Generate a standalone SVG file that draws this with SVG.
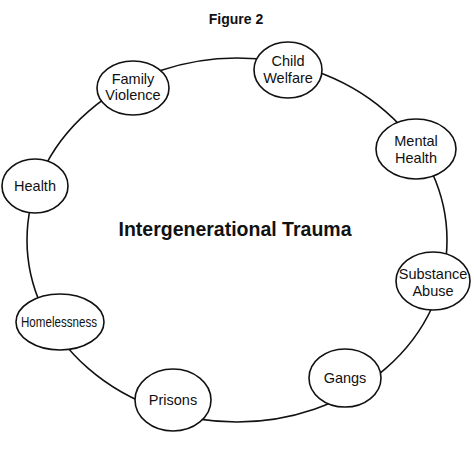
<svg xmlns="http://www.w3.org/2000/svg" width="474" height="450" viewBox="0 0 474 450">
<style>
.n{fill:#fff;stroke:#111;stroke-width:1.6}
.c{fill:none;stroke:#111;stroke-width:1.6}
.t{font-family:"Liberation Sans",Arial,sans-serif;font-size:14.5px;fill:#111;text-anchor:middle}
</style>
<rect width="474" height="450" fill="#fff"/>
<text x="236" y="24" class="t" style="font-weight:bold;font-size:14px">Figure 2</text>
<g id="connectors"><ellipse class="c" cx="237" cy="240" rx="210" ry="182"/></g>
<text x="235" y="236" class="t" style="font-weight:bold;font-size:19.5px">Intergenerational Trauma</text>
<g id="family"><ellipse class="n" cx="133" cy="88" rx="36" ry="27"/><text class="t" x="133" y="84">Family</text><text class="t" x="133" y="100">Violence</text></g>
<g id="child"><ellipse class="n" cx="288" cy="70" rx="34" ry="28"/><text class="t" x="288" y="66">Child</text><text class="t" x="288" y="83">Welfare</text></g>
<g id="mental"><ellipse class="n" cx="416" cy="149" rx="40" ry="30"/><text class="t" x="416" y="146">Mental</text><text class="t" x="416" y="163">Health</text></g>
<g id="health"><ellipse class="n" cx="35" cy="186" rx="33" ry="27"/><text class="t" x="35" y="191">Health</text></g>
<g id="substance"><ellipse class="n" cx="433" cy="281" rx="37" ry="29"/><text class="t" x="433" y="279">Substance</text><text class="t" x="433" y="296">Abuse</text></g>
<g id="homeless"><ellipse class="n" cx="60" cy="322" rx="44" ry="28"/><text class="t" x="59" y="327" style="font-size:14px" textLength="76" lengthAdjust="spacingAndGlyphs">Homelessness</text></g>
<g id="prisons"><ellipse class="n" cx="173" cy="400" rx="38" ry="31"/><text class="t" x="173" y="405">Prisons</text></g>
<g id="gangs"><ellipse class="n" cx="345" cy="378" rx="36" ry="29"/><text class="t" x="345" y="383">Gangs</text></g>
</svg>
